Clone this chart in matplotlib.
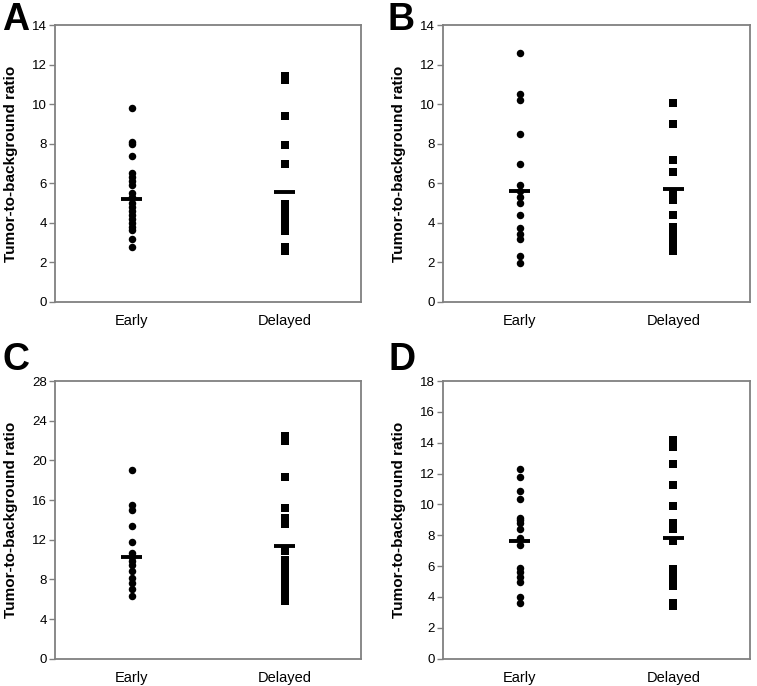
import matplotlib
matplotlib.use("Agg")
import matplotlib.pyplot as plt

plt.rcParams['font.family'] = ['Liberation Sans', 'DejaVu Sans']

groups = ["Early", "Delayed"]
panel_letters = ["A", "B", "C", "D"]
y_max = [14, 14, 28, 18]
y_step = [2, 2, 4, 2]

a_early = [9.8, 8.1, 8.0, 7.4, 6.5, 6.3, 6.1, 5.9, 5.5, 5.3, 5.0, 4.8, 4.6, 4.4, 4.2, 4.0, 3.8, 3.65, 3.2, 2.8]
a_delayed = [11.4, 11.2, 9.4, 7.95, 6.95, 4.95, 4.6, 4.4, 4.2, 4.0, 3.8, 3.6, 2.8, 2.6]
b_early = [12.6, 10.5, 10.2, 8.5, 7.0, 5.9, 5.6, 5.3, 5.0, 4.4, 3.75, 3.45, 3.2, 2.3, 1.95]
b_delayed = [10.05, 9.0, 7.2, 6.55, 5.5, 5.15, 4.4, 3.8, 3.5, 3.2, 2.9, 2.6]
c_early = [19.0, 15.5, 15.0, 13.4, 11.8, 10.7, 10.3, 9.9, 9.4, 8.8, 8.1, 7.6, 7.0, 6.3]
c_delayed = [22.5, 21.9, 18.35, 15.2, 14.2, 13.6, 10.9, 10.0, 9.3, 8.6, 7.9, 7.2, 6.5, 5.8]
d_early = [12.3, 11.75, 10.9, 10.35, 9.15, 9.0, 8.8, 8.4, 7.8, 7.4, 5.9, 5.65, 5.3, 4.95, 4.0, 3.6]
d_delayed = [14.2, 13.7, 12.6, 11.25, 9.9, 8.8, 8.4, 7.6, 5.8, 5.4, 5.0, 4.7, 3.6, 3.4]

center_lines = [[5.2, 5.55], [5.6, 5.7], [10.3, 11.4], [7.65, 7.8]]

data = [(a_early, a_delayed), (b_early, b_delayed), (c_early, c_delayed), (d_early, d_delayed)]

W, H = 757, 686
fig = plt.figure(figsize=(W / 100, H / 100), dpi=100)

boxes = [(55, 25, 361, 302), (443, 25, 750, 302), (55, 381, 361, 658.7), (443, 381, 750, 658.7)]
letter_pos = [(2, 2), (387, 2), (2, 342), (388, 342)]

spine_col = '#808080'
for i, (x0, y0, x1, y1) in enumerate(boxes):
    ax = fig.add_axes([x0 / W, 1 - y1 / H, (x1 - x0) / W, (y1 - y0) / H])
    early, delayed = data[i]
    ax.plot([1] * len(early), early, 'o', color='black', markersize=5.4, markeredgewidth=0)
    ax.plot([2] * len(delayed), delayed, 's', color='black', markersize=5.3, markeredgewidth=0)
    for xpos, val in zip([1, 2], center_lines[i]):
        ax.plot([xpos - 0.07, xpos + 0.07], [val, val], color='black', linewidth=2.8,
                solid_capstyle='butt')
    ax.set_xlim(0.5, 2.5)
    ax.set_ylim(0, y_max[i])
    ax.set_yticks(range(0, y_max[i] + 1, y_step[i]))
    ax.set_xticks([1, 2])
    ax.set_xticklabels(groups, fontsize=10.5)
    ax.tick_params(axis='x', length=0, pad=9)
    ax.tick_params(axis='y', length=4, width=1, color=spine_col, pad=2, labelsize=9.5)
    for s in ax.spines.values():
        s.set_color(spine_col)
        s.set_linewidth(1.3)
    ax.set_ylabel("Tumor-to-background ratio", fontsize=11, fontweight='bold')
    ax.yaxis.set_label_coords(-0.122, 0.5)
    lx, ly = letter_pos[i]
    fig.text(lx / W, 1 - ly / H, panel_letters[i], fontsize=27, fontweight='bold',
             ha='left', va='top')

fig.savefig("out.png", dpi=100)
